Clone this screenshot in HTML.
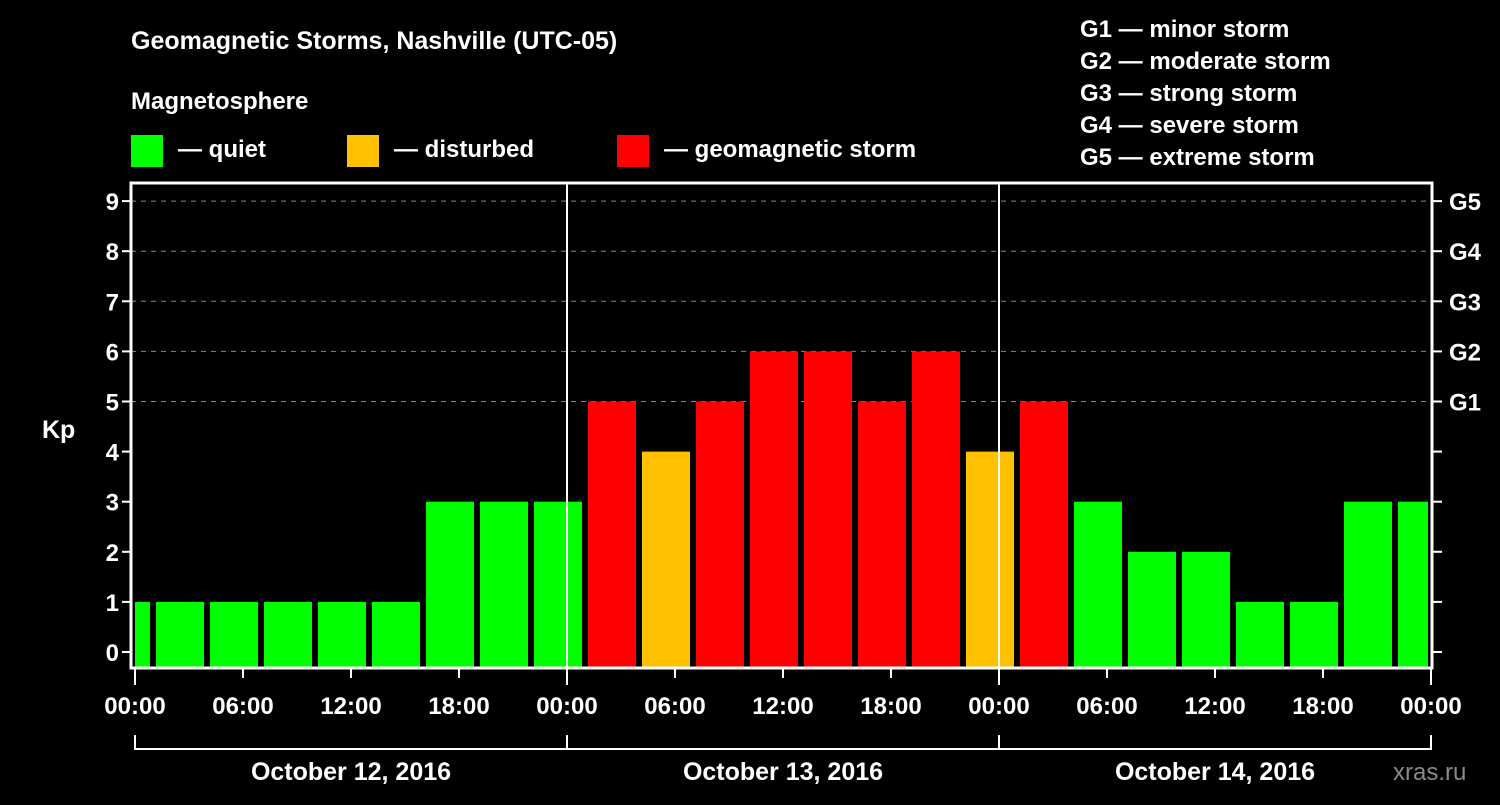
<!DOCTYPE html>
<html><head><meta charset="utf-8"><style>
body{margin:0;background:#000;width:1500px;height:800px;overflow:hidden}
svg text{font-family:"Liberation Sans",sans-serif;font-weight:bold;fill:#fff}
</style></head><body>
<svg id="c" width="1500" height="800">
<text x="131" y="49" font-size="25">Geomagnetic Storms, Nashville (UTC-05)</text>
<text x="131" y="109" font-size="24">Magnetosphere</text>
<rect x="131" y="135" width="32" height="32" fill="#00ff00"/>
<text x="178" y="157" font-size="24">— quiet</text>
<rect x="347" y="135" width="32" height="32" fill="#ffc000"/>
<text x="394" y="157" font-size="24">— disturbed</text>
<rect x="617" y="135" width="32" height="32" fill="#ff0000"/>
<text x="664" y="157" font-size="24">— geomagnetic storm</text>
<g font-size="24">
<text x="1080" y="37">G1 — minor storm</text>
<text x="1080" y="69">G2 — moderate storm</text>
<text x="1080" y="101">G3 — strong storm</text>
<text x="1080" y="133">G4 — severe storm</text>
<text x="1080" y="165">G5 — extreme storm</text>
</g>
<text x="42" y="438" font-size="25">Kp</text>
<text x="1393" y="780" font-size="24" fill="#888" style="fill:#8a8a8a;font-weight:normal">xras.ru</text>
</svg>
<script>
const kpValues=[1,1,1,1,1,1,3,3,3,5,4,5,6,6,5,6,4,5,3,2,2,1,1,3,3];
const blockStartHours=[-2,1,4,7,10,13,16,19,22,25,28,31,34,37,40,43,46,49,52,55,58,61,64,67,70];
const timeTicks=["00:00","06:00","12:00","18:00","00:00","06:00","12:00","18:00","00:00","06:00","12:00","18:00","00:00"];
const dayLabels=["October 12, 2016","October 13, 2016","October 14, 2016"];
const yTicks=[0,1,2,3,4,5,6,7,8,9];
const gLabels={5:"G1",6:"G2",7:"G3",8:"G4",9:"G5"};
const NS="http://www.w3.org/2000/svg";
const svg=document.getElementById('c');
const X0=135,PXH=18,Y0=652,PXK=50.1,L=131,R=1432,T=183,B=668;
const xs=h=>X0+h*PXH, ys=k=>Y0-k*PXK;
function mk(t,a){const e=document.createElementNS(NS,t);for(const k in a)e.setAttribute(k,a[k]);svg.appendChild(e);return e;}
yTicks.forEach(k=>{
  if(k>=5){const g=mk('line',{x1:L,x2:R,y1:ys(k),y2:ys(k),stroke:'#888','stroke-dasharray':'5,5','stroke-width':1});
  
  }
  const t=mk('line',{x1:L-9,x2:L,y1:ys(k),y2:ys(k),stroke:'#fff','stroke-width':2});
  
  
  const t2=mk('line',{x1:R,x2:R+10,y1:ys(k),y2:ys(k),stroke:'#fff','stroke-width':2});
  
  
  const lb=mk('text',{x:L-12,y:ys(k)+9,'font-size':24,'text-anchor':'end'});lb.textContent=k;
  
  
  if(gLabels[k]){const g=mk('text',{x:R+17,y:ys(k)+9,'font-size':24});g.textContent=gLabels[k];
  
  }
});
kpValues.forEach((v,i)=>{
  let x1=Math.max(xs(blockStartHours[i])+3,X0),x2=Math.min(xs(blockStartHours[i]+3)-3,1428);
  const c=v>=5?'#ff0000':(v>=4?'#ffc000':'#00ff00');
  const r=mk('rect',{x:x1,y:ys(v),width:x2-x1,height:B-ys(v),fill:c});
  
  
});
[1,2].forEach(d=>{const l=mk('line',{x1:xs(24*d),x2:xs(24*d),y1:T,y2:B,stroke:'#fff','stroke-width':2});
  
  });
const f=mk('rect',{x:L,y:T,width:R-L,height:B-T,fill:'none',stroke:'#fff','stroke-width':3});


timeTicks.forEach((s,i)=>{const x=xs(i*6);
  const t=mk('line',{x1:x,x2:x,y1:B,y2:B+(i%4==0?17:10),stroke:'#fff','stroke-width':2});
  
  
  const lb=mk('text',{x:x,y:714,'font-size':24,'text-anchor':'middle'});lb.textContent=s;
  
  });
const br=mk('path',{d:`M${xs(0)} 735V749H${xs(72)}V735`,fill:'none',stroke:'#fff','stroke-width':2});


[1,2].forEach(d=>{const l=mk('line',{x1:xs(24*d),x2:xs(24*d),y1:735,y2:749,stroke:'#fff','stroke-width':2});
  
  });
dayLabels.forEach((s,i)=>{const t=mk('text',{x:xs(24*i+12),y:780,'font-size':25,'text-anchor':'middle'});t.textContent=s;
  
  });
</script>
</body></html>
